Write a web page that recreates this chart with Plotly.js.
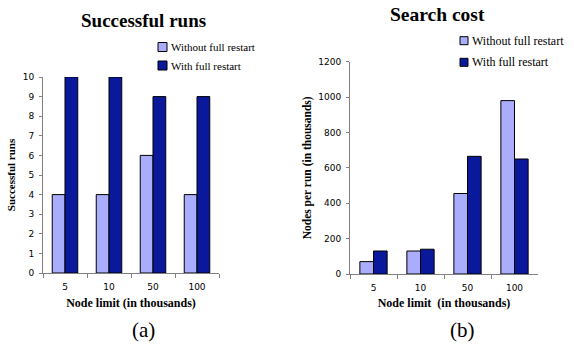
<!DOCTYPE html>
<html>
<head>
<meta charset="utf-8">
<script src="https://cdn.plot.ly/plotly-3.0.1.min.js"></script>
<style>html,body{margin:0;padding:0;background:#fff;}#chart{width:574px;height:347px;}</style>
</head>
<body>
<div id="chart"></div>
<script>
// ---- data ----
const categories = ["5", "10", "50", "100"];
const runsWithout = [4, 4, 6, 4];
const runsWith = [10, 10, 9, 9];
const costWithout = [70, 130, 455, 980];
const costWith = [130, 140, 665, 650];
const seriesNames = ["Without full restart", "With full restart"];
const leftTicks = [0,1,2,3,4,5,6,7,8,9,10];
const rightTicks = [0,200,400,600,800,1000,1200];

const lightColor = "#a9adfc";
const darkColor = "#0a199b";
const W = 574, H = 347;
const px = v => v / W;
const py = v => 1 - v / H;

const serif = '"Liberation Serif", serif';
const sans = '"DejaVu Sans", sans-serif';

function bar(x, y, name, color, xa, ya) {
  return {
    type: "bar", x: x, y: y, name: name, xaxis: xa, yaxis: ya,
    showlegend: false,
    marker: {color: color, line: {color: "#000", width: 1}},
    hoverinfo: "skip"
  };
}

const data = [
  bar(categories, runsWithout, seriesNames[0], lightColor, "x", "y"),
  bar(categories, runsWith, seriesNames[1], darkColor, "x", "y"),
  bar(categories, costWithout, seriesNames[0], lightColor, "x2", "y2"),
  bar(categories, costWith, seriesNames[1], darkColor, "x2", "y2")
];

const xBase = {
  type: "category", showgrid: false, zeroline: false,
  showline: true, linecolor: "#808080", linewidth: 1,
  ticks: "outside", tickson: "boundaries", ticklen: 4, tickcolor: "#808080",
  ticklabelstandoff: 5,
  tickfont: {family: sans, size: 9, color: "#000"},
  fixedrange: true
};
const yBase = {
  showgrid: false, zeroline: false,
  showline: true, linecolor: "#808080", linewidth: 1,
  ticks: "outside", ticklen: 3, tickcolor: "#808080",
  ticklabelstandoff: 3,
  tickfont: {family: sans, size: 9, color: "#000"},
  fixedrange: true
};

// manual legend entries (swatch + text) for each panel
function legendItems(x0, yCenters, size, fontSize) {
  const shapes = [], anns = [];
  const colors = [lightColor, darkColor];
  yCenters.forEach((yc, i) => {
    shapes.push({type: "rect", xref: "paper", yref: "paper",
      x0: px(x0), x1: px(x0 + size), y0: py(yc + size / 2), y1: py(yc - size / 2),
      fillcolor: colors[i], line: {color: "#000", width: 1}});
    anns.push({text: seriesNames[i], xref: "paper", yref: "paper",
      x: px(x0 + size + 2), y: py(yc), xanchor: "left", yanchor: "middle",
      showarrow: false, font: {family: serif, size: fontSize, color: "#000"}});
  });
  return {shapes, anns};
}
const legL = legendItems(158, [47, 65.5], 9, 11);
const legR = legendItems(460, [40.7, 62.3], 8, 12);

function label(text, x, y, size) {
  return {text: text, x: px(x), y: py(y), xref: "paper", yref: "paper",
    xanchor: "center", yanchor: "middle",
    showarrow: false, font: {family: serif, size: size, color: "#000"}};
}

const layout = {
  width: W, height: H,
  margin: {l: 0, r: 0, t: 0, b: 0},
  paper_bgcolor: "#fff", plot_bgcolor: "#fff",
  barmode: "group", bargap: 0.42, bargroupgap: 0,
  showlegend: false,
  xaxis: Object.assign({}, xBase, {
    domain: [px(43), px(219)], anchor: "y",
    title: {text: "<b>Node limit (in thousands)</b>", font: {family: serif, size: 12, color: "#000"}, standoff: 7}
  }),
  yaxis: Object.assign({}, yBase, {
    domain: [py(273), py(77)], anchor: "x", range: [0, 10],
    tickvals: leftTicks,
    title: {text: "<b>Successful runs</b>", font: {family: serif, size: 11, color: "#000"}, standoff: 4}
  }),
  xaxis2: Object.assign({}, xBase, {
    domain: [px(350), px(538)], anchor: "y2",
    title: {text: "<b>Node limit  (in thousands)</b>", font: {family: serif, size: 12, color: "#000"}, standoff: 6}
  }),
  yaxis2: Object.assign({}, yBase, {
    domain: [py(274), py(61.7)], anchor: "x2", range: [0, 1200],
    tickvals: rightTicks,
    title: {text: "<b>Nodes per run (in thousands)</b>", font: {family: serif, size: 11.5, color: "#000"}, standoff: 4}
  }),
  shapes: legL.shapes.concat(legR.shapes),
  annotations: [
    label("<b>Successful runs</b>", 143, 20, 19),
    label("<b>Search cost</b>", 438, 15, 19.5),
    label("(a)", 143, 330, 21),
    label("(b)", 462, 330, 21)
  ].concat(legL.anns, legR.anns)
};

Plotly.newPlot("chart", data, layout, {displayModeBar: false, staticPlot: true});
</script>
</body>
</html>
